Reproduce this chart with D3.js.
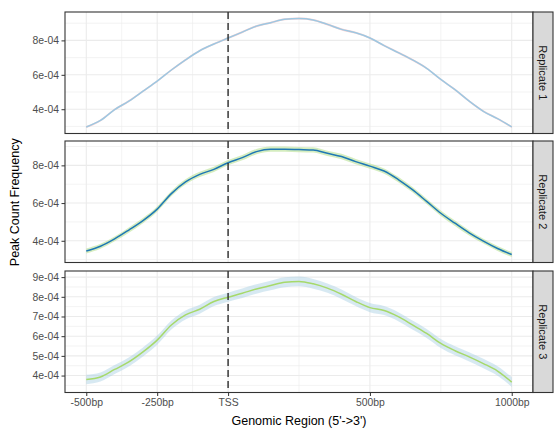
<!DOCTYPE html>
<html>
<head>
<meta charset="utf-8">
<script src="https://cdn.jsdelivr.net/npm/d3@7"></script>
<style>
  html, body { margin: 0; padding: 0; background: #fff; }
  svg { display: block; font-family: "Liberation Sans", Arial, sans-serif; }
</style>
</head>
<body>
<svg id="chart" width="557" height="430"></svg>
<script>
// Positions relative to TSS (bp), sampled every 50 bp
const positions = d3.range(-500, 1001, 50);

// Average peak count frequency (x1e-4) per replicate
const rep1 = [2.97, 3.35, 3.98, 4.47, 5.05, 5.63, 6.28, 6.87, 7.40, 7.79, 8.14,
              8.48, 8.83, 9.03, 9.23, 9.27, 9.19, 8.93, 8.64, 8.44, 8.14,
              7.70, 7.29, 6.87, 6.38, 5.73, 5.14, 4.47, 3.88, 3.45, 2.97];
const rep2 = [3.46, 3.71, 4.10, 4.57, 5.07, 5.68, 6.50, 7.12, 7.52, 7.79, 8.14,
              8.41, 8.73, 8.86, 8.86, 8.84, 8.82, 8.64, 8.47, 8.20, 7.96,
              7.70, 7.25, 6.71, 6.09, 5.46, 4.93, 4.42, 3.98, 3.59, 3.27];
const rep3 = [3.80, 3.93, 4.31, 4.69, 5.20, 5.80, 6.57, 7.08, 7.37, 7.76, 7.98,
              8.18, 8.40, 8.57, 8.74, 8.78, 8.66, 8.44, 8.13, 7.76, 7.45,
              7.30, 6.99, 6.57, 6.14, 5.63, 5.26, 4.95, 4.61, 4.23, 3.67];

// Confidence band half-widths (x1e-4)
const ci1 = [0.06, 0.06, 0.06, 0.06, 0.06, 0.06, 0.06, 0.06, 0.06, 0.06, 0.06,
             0.06, 0.06, 0.06, 0.06, 0.06, 0.06, 0.06, 0.06, 0.06, 0.06,
             0.06, 0.06, 0.06, 0.06, 0.06, 0.06, 0.06, 0.06, 0.06, 0.06];
const ci2 = [0.13, 0.13, 0.13, 0.14, 0.14, 0.14, 0.14, 0.14, 0.14, 0.14, 0.14,
             0.14, 0.14, 0.14, 0.14, 0.14, 0.14, 0.14, 0.14, 0.14, 0.14,
             0.14, 0.14, 0.14, 0.14, 0.14, 0.14, 0.14, 0.13, 0.13, 0.13];
const ci3 = [0.24, 0.23, 0.23, 0.23, 0.23, 0.23, 0.23, 0.23, 0.23, 0.23, 0.23,
             0.24, 0.24, 0.24, 0.25, 0.25, 0.25, 0.24, 0.24, 0.23, 0.23,
             0.23, 0.23, 0.23, 0.23, 0.23, 0.23, 0.23, 0.24, 0.24, 0.25];

const panelLabels = ["Replicate 1", "Replicate 2", "Replicate 3"];
const lineColors = ["#9DC8E2", "#1F78B4", "#A6D96A"];
const bandColors = ["#FB9A99", "#B2DF8A", "#A6CEE3"];
const bandOpacity = [0.45, 0.55, 0.45];

const xBreaks = [-500, -250, 0, 500, 1000];
const xBreakLabels = ["-500bp", "-250bp", "TSS", "500bp", "1000bp"];
const xMinor = [-375, -125, 250, 750];

const yBreaksPerPanel = [
  [4e-4, 6e-4, 8e-4],
  [4e-4, 6e-4, 8e-4],
  [4e-4, 5e-4, 6e-4, 7e-4, 8e-4, 9e-4]
];
const yMinorPerPanel = [
  [3e-4, 5e-4, 7e-4, 9e-4],
  [3e-4, 5e-4, 7e-4, 9e-4],
  [3.5e-4, 4.5e-4, 5.5e-4, 6.5e-4, 7.5e-4, 8.5e-4]
];

const series = [rep1, rep2, rep3];
const bands = [ci1, ci2, ci3];

const svg = d3.select("#chart");
const left = 65, right = 533, stripW = 20;
const panelTops = [12, 141, 271];
const panelH = 121.5;
const tickFont = "10.4px";

const x = d3.scaleLinear()
  .domain([-575, 1075])
  .range([left, right]);

const fmtY = v => {
  const m = Math.round(v * 1e4);
  return m + "e-04";
};

series.forEach((vals, i) => {
  const top = panelTops[i];
  const bottom = top + panelH;
  const rows = positions.map((p, j) => ({
    p,
    v: vals[j] * 1e-4,
    lo: (vals[j] - bands[i][j]) * 1e-4,
    hi: (vals[j] + bands[i][j]) * 1e-4
  }));
  const lo = d3.min(rows, d => d.lo), hi = d3.max(rows, d => d.hi);
  const pad = (hi - lo) * 0.05;
  const y = d3.scaleLinear().domain([lo - pad, hi + pad]).range([bottom, top]);

  const g = svg.append("g");
  g.append("rect").attr("x", left).attr("y", top)
    .attr("width", right - left).attr("height", panelH).attr("fill", "#fff");

  // grid
  const grid = g.append("g").attr("stroke", "#EBEBEB");
  yMinorPerPanel[i].filter(t => t > y.domain()[0] && t < y.domain()[1]).forEach(t => {
    grid.append("line").attr("x1", left).attr("x2", right)
      .attr("y1", y(t)).attr("y2", y(t)).attr("stroke-width", 0.6);
  });
  xMinor.forEach(t => {
    grid.append("line").attr("y1", top).attr("y2", bottom)
      .attr("x1", x(t)).attr("x2", x(t)).attr("stroke-width", 0.6);
  });
  yBreaksPerPanel[i].forEach(t => {
    grid.append("line").attr("x1", left).attr("x2", right)
      .attr("y1", y(t)).attr("y2", y(t)).attr("stroke-width", 1.1);
  });
  xBreaks.forEach(t => {
    grid.append("line").attr("y1", top).attr("y2", bottom)
      .attr("x1", x(t)).attr("x2", x(t)).attr("stroke-width", 1.1);
  });

  // confidence band
  const area = d3.area().x(d => x(d.p)).y0(d => y(d.lo)).y1(d => y(d.hi))
    .curve(d3.curveMonotoneX);
  g.append("path").datum(rows).attr("d", area)
    .attr("fill", bandColors[i]).attr("fill-opacity", bandOpacity[i]);

  // mean profile
  const line = d3.line().x(d => x(d.p)).y(d => y(d.v)).curve(d3.curveMonotoneX);
  g.append("path").datum(rows).attr("d", line)
    .attr("fill", "none").attr("stroke", lineColors[i]).attr("stroke-width", 1.5);

  // TSS marker
  g.append("line").attr("x1", x(0)).attr("x2", x(0))
    .attr("y1", top).attr("y2", bottom)
    .attr("stroke", "#2b2b2b").attr("stroke-width", 1.4)
    .attr("stroke-dasharray", "7,4");

  // y axis
  const yAxis = d3.axisLeft(y).tickValues(yBreaksPerPanel[i]).tickFormat(fmtY)
    .tickSize(3.5).tickPadding(2.5);
  const ya = g.append("g").attr("transform", `translate(${left},0)`).call(yAxis);
  ya.select(".domain").remove();
  ya.selectAll(".tick line").attr("stroke", "#333").attr("stroke-width", 1);
  ya.selectAll(".tick text").attr("fill", "#4D4D4D")
    .style("font-size", tickFont).style("font-family", "Liberation Sans, Arial, sans-serif");

  // panel border
  g.append("rect").attr("x", left).attr("y", top)
    .attr("width", right - left).attr("height", panelH)
    .attr("fill", "none").attr("stroke", "#333").attr("stroke-width", 1.1);

  // facet strip
  g.append("rect").attr("x", right).attr("y", top)
    .attr("width", stripW).attr("height", panelH)
    .attr("fill", "#D9D9D9").attr("stroke", "#333").attr("stroke-width", 1.1);
  g.append("text")
    .attr("transform", `translate(${right + stripW / 2},${top + panelH / 2}) rotate(90)`)
    .attr("text-anchor", "middle").attr("dy", "0.35em")
    .attr("fill", "#1A1A1A").style("font-size", "11px")
    .text(panelLabels[i]);

  if (i === series.length - 1) {
    const xAxis = d3.axisBottom(x).tickValues(xBreaks)
      .tickFormat((d, k) => xBreakLabels[k]).tickSize(3.5).tickPadding(2.5);
    const xa = g.append("g").attr("transform", `translate(0,${bottom})`).call(xAxis);
    xa.select(".domain").remove();
    xa.selectAll(".tick line").attr("stroke", "#333").attr("stroke-width", 1);
    xa.selectAll(".tick text").attr("fill", "#4D4D4D")
      .style("font-size", tickFont).style("font-family", "Liberation Sans, Arial, sans-serif");
  }
});

// axis titles
svg.append("text")
  .attr("x", (left + right) / 2).attr("y", 425)
  .attr("text-anchor", "middle").attr("fill", "#000")
  .style("font-size", "12.5px")
  .text("Genomic Region (5'->3')");

svg.append("text")
  .attr("transform", `translate(19,${(panelTops[0] + panelTops[2] + panelH) / 2}) rotate(-90)`)
  .attr("text-anchor", "middle").attr("fill", "#000")
  .style("font-size", "12.5px")
  .text("Peak Count Frequency");
</script>
</body>
</html>
